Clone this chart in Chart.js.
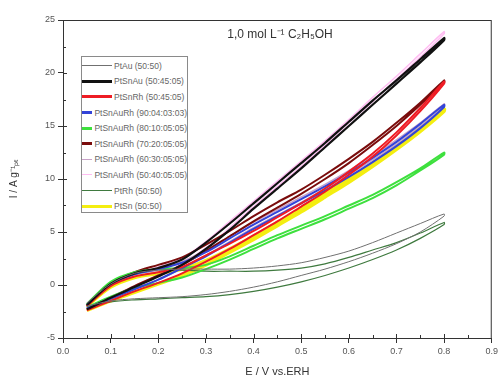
<!DOCTYPE html>
<html>
<head>
<meta charset="utf-8">
<script src="https://cdn.jsdelivr.net/npm/chart.js@4/dist/chart.umd.min.js"></script>
<style>
body { margin: 0; background: #fff; }
#wrap { position: relative; width: 501px; height: 385px; }
#legend { position: absolute; left: 81px; top: 56px; width: 107px; height: 157px; border: 1px solid #8a8a8a;
  background: #fff; box-sizing: border-box; padding-top: 1px; }
.row { height: 15.6px; display: flex; align-items: center; font: 8.5px "Liberation Sans", Arial, sans-serif;
  color: #666; white-space: nowrap; }
.row i { display: inline-block; width: 30px; margin-right: 2px; }
</style>
</head>
<body>
<div id="wrap">
<canvas id="canvas" width="501" height="385"></canvas>
<div id="legend"></div>
</div>
<script>
// potential (V vs ERH) - forward scan goes up, backward comes back down
var potential = [0.05, 0.1, 0.15, 0.2, 0.25, 0.3, 0.35, 0.4, 0.45, 0.5, 0.55, 0.6, 0.65, 0.7, 0.75, 0.8];

var seriesNames = ["PtAu (50:50)", "PtSnAu (50:45:05)", "PtSnRh (50:45:05)", "PtSnAuRh (90:04:03:03)",
  "PtSnAuRh (80:10:05:05)", "PtSnAuRh (70:20:05:05)", "PtSnAuRh (60:30:05:05)", "PtSnAuRh (50:40:05:05)",
  "PtRh (50:50)", "PtSn (50:50)"];

// current I / A g-1 Pt
var ptAuFwd = [-1.7, 0.1, 1.1, 1.4, 1.5, 1.5, 1.5, 1.6, 1.8, 2.1, 2.6, 3.2, 4.0, 4.9, 5.8, 6.7];
var ptAuBwd = [-2.0, -1.5, -1.3, -1.2, -1.1, -0.9, -0.6, -0.2, 0.3, 0.9, 1.5, 2.2, 3.0, 3.9, 5.0, 6.5];
var ptSnAuFwd = [-1.9, 0.1, 1.1, 1.6, 2.4, 4.0, 5.8, 7.7, 9.6, 11.5, 13.4, 15.4, 17.4, 19.3, 21.3, 23.3];
var ptSnAuBwd = [-2.3, -1.2, -0.2, 0.8, 1.9, 3.4, 5.2, 7.2, 9.1, 11.0, 13.0, 15.0, 17.0, 19.0, 21.0, 23.1];
var ptSnRhFwd = [-2.0, -0.1, 0.8, 1.2, 1.7, 2.8, 3.9, 5.1, 6.4, 7.7, 9.1, 10.7, 12.4, 14.4, 16.7, 19.2];
var ptSnRhBwd = [-2.4, -1.5, -0.6, 0.2, 1.1, 2.2, 3.4, 4.7, 6.0, 7.4, 8.8, 10.4, 12.1, 14.1, 16.4, 19.0];
var rh90Fwd = [-1.9, 0.0, 1.0, 1.5, 2.1, 3.1, 4.4, 5.7, 6.9, 8.1, 9.3, 10.6, 12.0, 13.5, 15.2, 17.0];
var rh90Bwd = [-2.2, -1.3, -0.4, 0.5, 1.6, 2.7, 4.0, 5.3, 6.5, 7.7, 8.9, 10.2, 11.6, 13.1, 14.8, 16.8];
var rh80Fwd = [-1.8, 0.3, 1.2, 1.5, 1.6, 1.9, 2.7, 3.7, 4.7, 5.6, 6.5, 7.5, 8.5, 9.7, 11.0, 12.5];
var rh80Bwd = [-2.1, -1.1, -0.3, 0.2, 0.7, 1.5, 2.4, 3.4, 4.4, 5.3, 6.2, 7.2, 8.2, 9.4, 10.8, 12.3];
var rh70Fwd = [-2.0, 0.1, 1.2, 1.9, 2.6, 3.8, 5.1, 6.5, 7.8, 9.0, 10.4, 11.9, 13.5, 15.3, 17.2, 19.3];
var rh70Bwd = [-2.3, -1.2, -0.1, 0.9, 1.9, 3.2, 4.6, 6.0, 7.3, 8.6, 10.0, 11.5, 13.2, 15.0, 17.0, 19.1];
var rh60Fwd = [-1.9, 0.0, 1.0, 1.4, 2.2, 3.3, 4.6, 5.9, 7.1, 8.3, 9.5, 10.8, 12.2, 13.7, 15.3, 17.1];
var rh60Bwd = [-2.2, -1.3, -0.4, 0.5, 1.6, 2.8, 4.1, 5.4, 6.6, 7.8, 9.1, 10.4, 11.8, 13.3, 15.0, 16.9];
var rh50Fwd = [-1.9, 0.1, 1.1, 1.7, 2.5, 4.1, 6.0, 7.9, 9.8, 11.7, 13.6, 15.6, 17.7, 19.7, 21.8, 23.9];
var rh50Bwd = [-2.2, -1.1, -0.1, 0.9, 2.0, 3.5, 5.4, 7.4, 9.3, 11.2, 13.2, 15.3, 17.3, 19.4, 21.5, 23.7];
var ptRhFwd = [-1.8, 0.2, 1.2, 1.4, 1.4, 1.3, 1.3, 1.3, 1.4, 1.6, 2.0, 2.6, 3.3, 4.0, 4.9, 5.9];
var ptRhBwd = [-2.1, -1.6, -1.4, -1.3, -1.2, -1.1, -0.9, -0.6, -0.2, 0.3, 0.9, 1.6, 2.4, 3.3, 4.4, 5.7];
var ptSnFwd = [-2.0, -0.2, 0.7, 1.1, 1.5, 2.3, 3.4, 4.6, 5.9, 7.2, 8.6, 10.0, 11.5, 13.1, 14.8, 16.6];
var ptSnBwd = [-2.4, -1.5, -0.7, 0.1, 0.9, 1.9, 3.1, 4.3, 5.6, 6.9, 8.3, 9.7, 11.2, 12.8, 14.5, 16.4];

var xTicks = [0, 0.1, 0.2, 0.3, 0.4, 0.5, 0.6, 0.7, 0.8, 0.9];
var yTicks = [-5, 0, 5, 10, 15, 20, 25];

var curves = [
  [ptAuFwd, ptAuBwd, '#707070', 1],
  [ptSnAuFwd, ptSnAuBwd, '#111111', 2.2],
  [ptSnRhFwd, ptSnRhBwd, '#ee1c24', 2],
  [rh90Fwd, rh90Bwd, '#3344d8', 2],
  [rh80Fwd, rh80Bwd, '#3ee03e', 2],
  [rh70Fwd, rh70Bwd, '#7a0c0c', 2],
  [rh60Fwd, rh60Bwd, '#c8a2c8', 1.5],
  [rh50Fwd, rh50Bwd, '#ffbdf2', 1.5],
  [ptRhFwd, ptRhBwd, '#3f7a3f', 1.2],
  [ptSnFwd, ptSnBwd, '#f4ee10', 3.5]
];
var legendWidths = [1, 3, 3, 3, 3, 3, 1.5, 1.5, 1.5, 3];

// one closed loop per catalyst: forward scan then back
function loop(fwd, bwd) {
  var pts = [];
  for (var i = 0; i < potential.length; i++) pts.push({x: potential[i], y: fwd[i]});
  for (var j = potential.length - 1; j >= 0; j--) pts.push({x: potential[j], y: bwd[j]});
  return pts;
}

var datasets = curves.map(function (c, i) {
  return {
    label: seriesNames[i],
    data: loop(c[0], c[1]),
    borderColor: c[2],
    backgroundColor: c[2],
    borderWidth: c[3],
    showLine: true,
    pointRadius: 0,
    tension: 0.3,
    fill: false
  };
});

var tickFont = {family: '"Liberation Sans", Arial, sans-serif', size: 9};

var framePlugin = {
  id: 'frame',
  afterDraw: function (chart) {
    var ctx = chart.ctx, a = chart.chartArea, sx = chart.scales.x, sy = chart.scales.y;
    ctx.save();
    ctx.strokeStyle = '#333';
    ctx.lineWidth = 1;
    ctx.strokeRect(a.left + 0.5, a.top + 0.5, a.right - a.left - 1, a.bottom - a.top);
    ctx.beginPath();
    // minor and major inner ticks
    for (var v = 0.05; v < 0.9; v += 0.05) {
      var px = Math.round(sx.getPixelForValue(v)) + 0.5;
      var len = Math.abs(v * 10 - Math.round(v * 10)) < 0.01 ? 4 : 3;
      ctx.moveTo(px, a.bottom); ctx.lineTo(px, a.bottom - len);
    }
    for (var w = -2.5; w < 25; w += 2.5) {
      var py = Math.round(sy.getPixelForValue(w)) + 0.5;
      var l2 = w % 5 === 0 ? 4 : 3;
      ctx.moveTo(a.left, py); ctx.lineTo(a.left + l2, py);
    }
    ctx.stroke();
    ctx.fillStyle = '#333';
    ctx.font = '12px "Liberation Sans", Arial, sans-serif';
    ctx.textAlign = 'center';
    ctx.textBaseline = 'alphabetic';
    ctx.fillText('1,0 mol L\u207B\u00B9 C\u2082H\u2085OH', 280, 38);
    ctx.restore();
  }
};

var config = {
  type: 'scatter',
  data: {datasets: datasets},
  options: {
    responsive: false,
    animation: false,
    layout: {padding: {left: 0, right: 9, top: 20, bottom: 0}},
    plugins: {legend: {display: false}, tooltip: {enabled: false}},
    scales: {
      x: {
        type: 'linear', min: 0, max: 0.9,
        afterBuildTicks: function (s) { s.ticks = xTicks.map(function (v) { return {value: v}; }); },
        afterFit: function (s) { s.height = 47; },
        ticks: {font: tickFont, color: '#555', padding: 3, maxRotation: 0, autoSkip: false,
          callback: function (v) { return v.toFixed(1); }},
        grid: {display: true, drawOnChartArea: false, tickLength: 5, color: '#333'},
        border: {display: false},
        title: {display: true, text: 'E / V vs.ERH', color: '#333',
          font: {family: '"Liberation Sans", Arial, sans-serif', size: 11}, padding: {top: 4, bottom: 6}}
      },
      y: {
        type: 'linear', min: -5, max: 25,
        afterBuildTicks: function (s) { s.ticks = yTicks.map(function (v) { return {value: v}; }); },
        afterFit: function (s) { s.width = 63; },
        ticks: {font: tickFont, color: '#555', padding: 3, autoSkip: false},
        grid: {display: true, drawOnChartArea: false, tickLength: 5, color: '#333'},
        border: {display: false},
        title: {display: true, text: 'I / A g\u207B\u00B9\u209A\u209C', color: '#333',
          font: {family: '"Liberation Sans", Arial, sans-serif', size: 10}, padding: {top: 8, bottom: 0}}
      }
    }
  },
  plugins: [framePlugin]
};

window.onload = function () {
  window.myChart = new Chart(document.getElementById('canvas'), config);
  var lg = document.getElementById('legend');
  datasets.forEach(function (d, i) {
    var row = document.createElement('div');
    row.className = 'row';
    var sw = document.createElement('i');
    sw.style.borderTop = legendWidths[i] + 'px solid ' + d.borderColor;
    row.appendChild(sw);
    row.appendChild(document.createTextNode(d.label));
    lg.appendChild(row);
  });
};
</script>
</body>
</html>
